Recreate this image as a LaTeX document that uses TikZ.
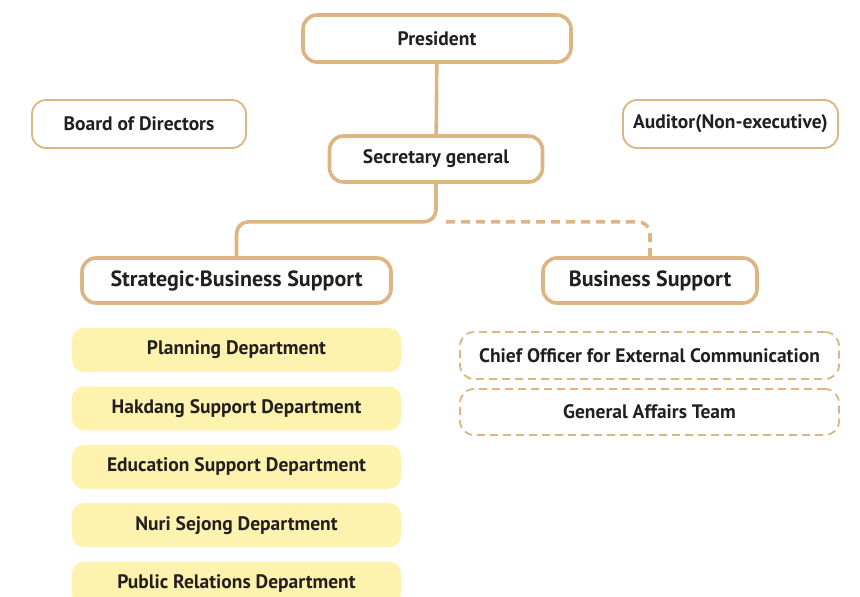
\documentclass[tikz,border=0pt]{standalone}
\usepackage{fontspec}
\setmainfont{PT Sans}
\usetikzlibrary{positioning}
\definecolor{tan}{HTML}{DCB583}
\definecolor{pale}{HTML}{FDF2AE}
\definecolor{ink}{HTML}{231F20}

\begin{document}
\begin{tikzpicture}[x=1pt, y=-1pt, node distance={14pt}, text=ink,
		main/.style={draw=tan, line width=3.6pt, rounded corners=14pt, fill=white, font=\bfseries\fontsize{19.5}{22}\selectfont},
		side/.style={main, line width=1.8pt},
		head/.style={main, font=\bfseries\fontsize{22}{25}\selectfont, minimum height=45pt},
		dept/.style={fill=pale, rounded corners=12pt, font=\bfseries\fontsize{19.5}{22}\selectfont, minimum width=329pt, minimum height=44pt},
		team/.style={side, dash pattern=on 8pt off 5pt, font=\bfseries\fontsize{19.5}{22}\selectfont, minimum width=379pt, minimum height=47pt},
		link/.style={draw=tan, line width=3.6pt, rounded corners=12pt}]
		\useasboundingbox (0,0) rectangle (860,597);

		\node[main, minimum width=268pt, minimum height=47pt] (pres) at (437,38.5) {President};
		\node[side, minimum width=214pt, minimum height=48pt] (board) at (139,124) {Board of Directors};
		\node[side, minimum width=215pt, minimum height=48pt] (audit) at (730.5,124) {Auditor(Non-executive)};
		\node[main, minimum width=213pt, minimum height=46pt] (sec) at (436,159) {Secretary general};
		\node[head, minimum width=309pt] (sbs) at (236.5,280.5) {Strategic·Business Support};
		\node[head, minimum width=214pt] (bs) at (650,280.5) {Business Support};

		\node[dept] (d1) at (236.5,350) {Planning Department};
		\node[dept] (d2) [below=14pt of d1] {Hakdang Support Department};
		\node[dept] (d3) [below=14pt of d2] {Education Support Department};
		\node[dept] (d4) [below=14pt of d3] {Nuri Sejong Department};
		\node[dept] (d5) [below=14pt of d4] {Public Relations Department};

		\node[team] (t1) at (649.5,355.5) {Chief Officer for External Communication};
		\node[team, minimum height=46pt] (t2) at (649.5,412) {General Affairs Team};

		\draw[link] (pres) -- (sec);
		\draw[link] (sec.south) -- ++(0,38) -| (sbs.north);
		\path (sec.south) ++(10,38) coordinate (fork);
		\draw[link, dash pattern=on 9pt off 6pt] (fork) -| ([yshift=-6pt]bs.north);
	\end{tikzpicture}
\end{document}
